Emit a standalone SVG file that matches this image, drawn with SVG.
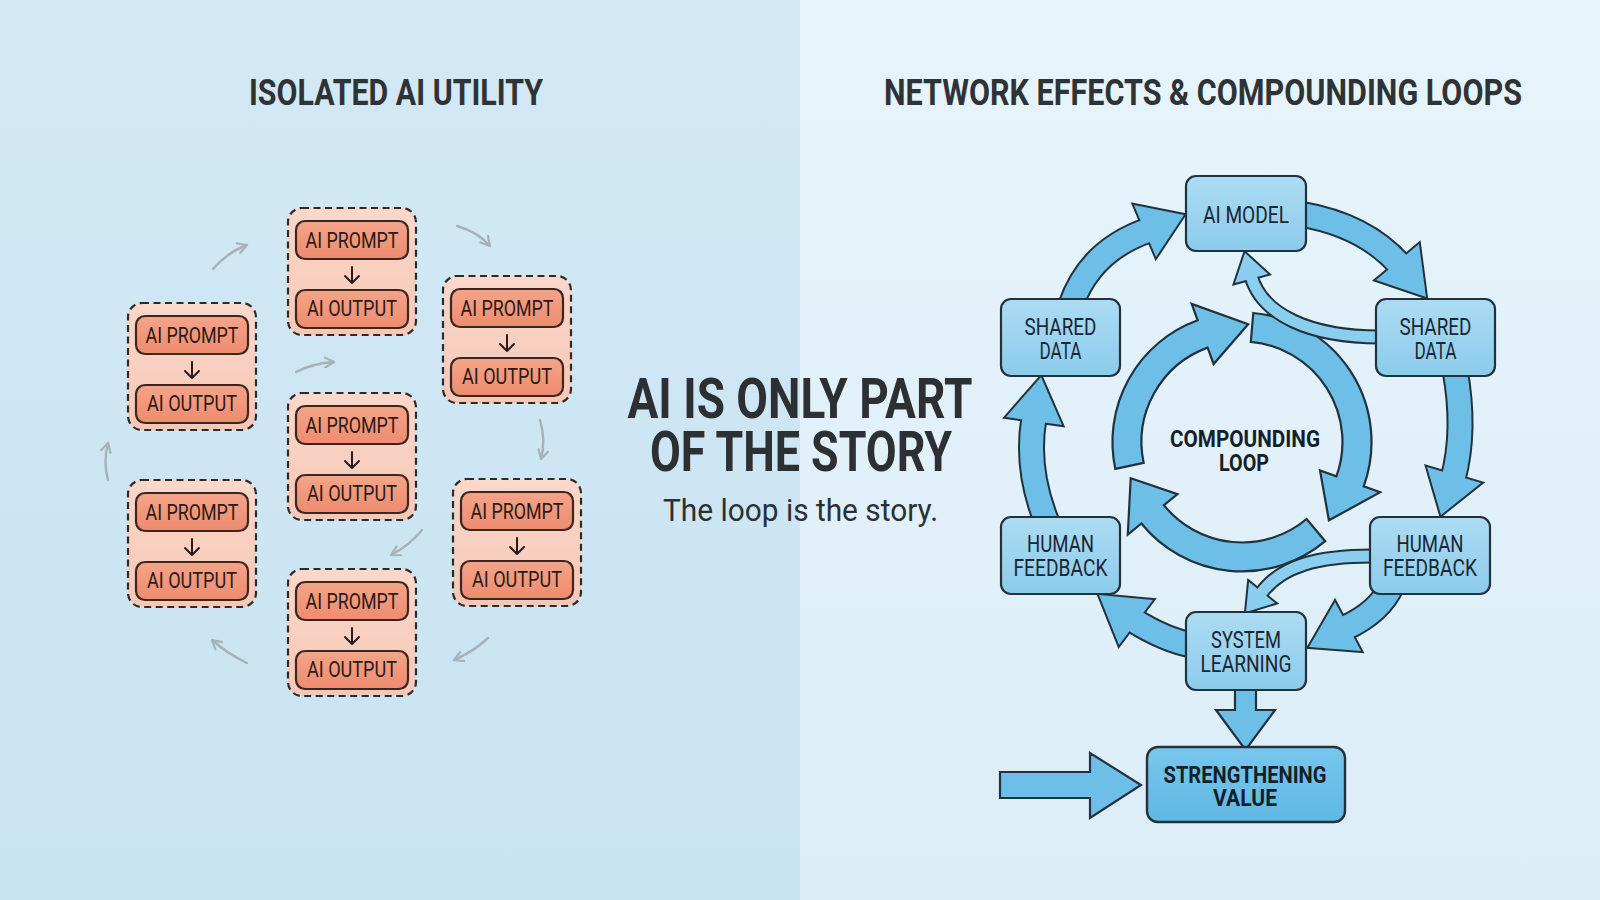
<svg xmlns="http://www.w3.org/2000/svg" width="1600" height="900" viewBox="0 0 1600 900">
<defs>
<linearGradient id="bgL" x1="0" y1="0" x2="0" y2="1"><stop offset="0" stop-color="#d3e9f5"/><stop offset="1" stop-color="#c8e3f2"/></linearGradient>
<linearGradient id="bgR" x1="0" y1="0" x2="0" y2="1"><stop offset="0" stop-color="#e7f4fb"/><stop offset="1" stop-color="#dcedf7"/></linearGradient>
<linearGradient id="gOb" x1="0" y1="0" x2="0" y2="1"><stop offset="0" stop-color="#fad8cb"/><stop offset="1" stop-color="#f6c7b6"/></linearGradient>
<linearGradient id="gIb" x1="0" y1="0" x2="0" y2="1"><stop offset="0" stop-color="#f5a489"/><stop offset="1" stop-color="#ee8b6f"/></linearGradient>
<linearGradient id="gNode" x1="0" y1="0" x2="0" y2="1"><stop offset="0" stop-color="#acdcf3"/><stop offset="1" stop-color="#8ccbec"/></linearGradient>
<linearGradient id="gSV" x1="0" y1="0" x2="0" y2="1"><stop offset="0" stop-color="#78c6ec"/><stop offset="1" stop-color="#5fb8e4"/></linearGradient>
<marker id="gh" viewBox="0 0 12 12" refX="10" refY="6" markerWidth="12" markerHeight="12" markerUnits="userSpaceOnUse" orient="auto">
<path d="M1,1 L10,6 L1,11" fill="none" stroke="#a6b2b9" stroke-width="2.2" stroke-linecap="round" stroke-linejoin="round"/>
</marker>
<style>
.ob{fill:url(#gOb);stroke:#2e2a28;stroke-width:2.2;stroke-dasharray:7 4.5}
.ib{fill:url(#gIb);stroke:#3b2620;stroke-width:2.2}
.bt{font-family:Roboto,"Liberation Sans",sans-serif;font-size:22px;fill:#2a1b17;text-anchor:middle}
.da{fill:none;stroke:#2a1b17;stroke-width:2;stroke-linecap:round;stroke-linejoin:round}
.gl{fill:none;stroke:#a6b2b9;stroke-width:2.4;stroke-linecap:round;marker-end:url(#gh)}
.ttl{font-family:Roboto,"Liberation Sans",sans-serif;font-weight:700;font-size:37px;fill:#2f3336;text-anchor:middle}
.hl1{font-family:Roboto,"Liberation Sans",sans-serif;font-weight:700;font-size:56px;fill:#2c3033;text-anchor:middle}
.sub{font-family:Roboto,"Liberation Sans",sans-serif;font-size:32px;fill:#2c3033;text-anchor:middle}
.node{fill:url(#gNode);stroke:#22323d;stroke-width:2.2}
.sv{fill:url(#gSV);stroke:#22323d;stroke-width:2.4}
.nt{font-family:Roboto,"Liberation Sans",sans-serif;font-size:24px;fill:#1b2630;text-anchor:middle}
.nb{font-family:Roboto,"Liberation Sans",sans-serif;font-weight:700;font-size:24px;fill:#151f27;text-anchor:middle}
.sd{fill:none;stroke:#22323d;stroke-width:27}
.sl{fill:none;stroke:#6dbfe7;stroke-width:23}
.td{fill:none;stroke:#22323d;stroke-width:15}
.tl{fill:none;stroke:#8acfef;stroke-width:11}
.hd{fill:#22323d;stroke:#22323d;stroke-width:4;stroke-linejoin:miter}
.hf{fill:#6dbfe7}
.hft{fill:#8acfef}
.blk{fill:#6dbfe7;stroke:#22323d;stroke-width:2.2;stroke-linejoin:miter}
</style>
</defs>

<rect x="0" y="0" width="800" height="900" fill="url(#bgL)"/>
<rect x="800" y="0" width="800" height="900" fill="url(#bgR)"/>

<text class="ttl" x="396" y="105" textLength="294" lengthAdjust="spacingAndGlyphs">ISOLATED AI UTILITY</text>
<text class="ttl" x="1203" y="105" textLength="638" lengthAdjust="spacingAndGlyphs">NETWORK EFFECTS &amp; COMPOUNDING LOOPS</text>

<g id="left-connectors">
<path class="gl" d="M213,269 Q228,252 247,245"/>
<path class="gl" d="M457,226 Q478,232 490,246"/>
<path class="gl" d="M296,372 Q314,363 334,362"/>
<path class="gl" d="M540,420 Q546,440 541,459"/>
<path class="gl" d="M108,480 Q103,462 108,443"/>
<path class="gl" d="M422,530 Q410,545 391,555"/>
<path class="gl" d="M488,638 Q473,652 454,660"/>
<path class="gl" d="M247,663 Q228,654 212,640"/>
</g>

<g id="boxA" transform="translate(288,208)">
<rect class="ob" width="128" height="127" rx="14"/>
<rect class="ib" x="8" y="13" width="112" height="38" rx="9"/>
<text class="bt" x="64" y="40" textLength="93" lengthAdjust="spacingAndGlyphs">AI PROMPT</text>
<path class="da" d="M64,59 V75 M57,68 L64,75 L71,68"/>
<rect class="ib" x="8" y="82" width="112" height="38" rx="9"/>
<text class="bt" x="64" y="108" textLength="90" lengthAdjust="spacingAndGlyphs">AI OUTPUT</text>
</g>
<g id="boxB" transform="translate(128,303)">
<rect class="ob" width="128" height="127" rx="14"/>
<rect class="ib" x="8" y="13" width="112" height="38" rx="9"/>
<text class="bt" x="64" y="40" textLength="93" lengthAdjust="spacingAndGlyphs">AI PROMPT</text>
<path class="da" d="M64,59 V75 M57,68 L64,75 L71,68"/>
<rect class="ib" x="8" y="82" width="112" height="38" rx="9"/>
<text class="bt" x="64" y="108" textLength="90" lengthAdjust="spacingAndGlyphs">AI OUTPUT</text>
</g>
<g id="boxC" transform="translate(443,276)">
<rect class="ob" width="128" height="127" rx="14"/>
<rect class="ib" x="8" y="13" width="112" height="38" rx="9"/>
<text class="bt" x="64" y="40" textLength="93" lengthAdjust="spacingAndGlyphs">AI PROMPT</text>
<path class="da" d="M64,59 V75 M57,68 L64,75 L71,68"/>
<rect class="ib" x="8" y="82" width="112" height="38" rx="9"/>
<text class="bt" x="64" y="108" textLength="90" lengthAdjust="spacingAndGlyphs">AI OUTPUT</text>
</g>
<g id="boxD" transform="translate(288,393)">
<rect class="ob" width="128" height="127" rx="14"/>
<rect class="ib" x="8" y="13" width="112" height="38" rx="9"/>
<text class="bt" x="64" y="40" textLength="93" lengthAdjust="spacingAndGlyphs">AI PROMPT</text>
<path class="da" d="M64,59 V75 M57,68 L64,75 L71,68"/>
<rect class="ib" x="8" y="82" width="112" height="38" rx="9"/>
<text class="bt" x="64" y="108" textLength="90" lengthAdjust="spacingAndGlyphs">AI OUTPUT</text>
</g>
<g id="boxE" transform="translate(128,480)">
<rect class="ob" width="128" height="127" rx="14"/>
<rect class="ib" x="8" y="13" width="112" height="38" rx="9"/>
<text class="bt" x="64" y="40" textLength="93" lengthAdjust="spacingAndGlyphs">AI PROMPT</text>
<path class="da" d="M64,59 V75 M57,68 L64,75 L71,68"/>
<rect class="ib" x="8" y="82" width="112" height="38" rx="9"/>
<text class="bt" x="64" y="108" textLength="90" lengthAdjust="spacingAndGlyphs">AI OUTPUT</text>
</g>
<g id="boxF" transform="translate(453,479)">
<rect class="ob" width="128" height="127" rx="14"/>
<rect class="ib" x="8" y="13" width="112" height="38" rx="9"/>
<text class="bt" x="64" y="40" textLength="93" lengthAdjust="spacingAndGlyphs">AI PROMPT</text>
<path class="da" d="M64,59 V75 M57,68 L64,75 L71,68"/>
<rect class="ib" x="8" y="82" width="112" height="38" rx="9"/>
<text class="bt" x="64" y="108" textLength="90" lengthAdjust="spacingAndGlyphs">AI OUTPUT</text>
</g>
<g id="boxG" transform="translate(288,569)">
<rect class="ob" width="128" height="127" rx="14"/>
<rect class="ib" x="8" y="13" width="112" height="38" rx="9"/>
<text class="bt" x="64" y="40" textLength="93" lengthAdjust="spacingAndGlyphs">AI PROMPT</text>
<path class="da" d="M64,59 V75 M57,68 L64,75 L71,68"/>
<rect class="ib" x="8" y="82" width="112" height="38" rx="9"/>
<text class="bt" x="64" y="108" textLength="90" lengthAdjust="spacingAndGlyphs">AI OUTPUT</text>
</g>

<g id="headline">
<text class="hl1" x="800" y="418" textLength="345" lengthAdjust="spacingAndGlyphs">AI IS ONLY PART</text>
<text class="hl1" x="801" y="471" textLength="302" lengthAdjust="spacingAndGlyphs">OF THE STORY</text>
<text class="sub" x="800.5" y="521" textLength="275" lengthAdjust="spacingAndGlyphs">The loop is the story.</text>
</g>

<g id="connectors">
<g id="a-sdl-aim"><path class="sd" d="M1071,305 Q1090,250 1149,230"/><polygon class="hd" points="1134,205 1184,215 1156,257"/><path class="sl" d="M1071,305 Q1090,250 1149,230"/><polygon class="hf" points="1134,205 1184,215 1156,257"/></g>
<g id="a-aim-sdr"><path class="sd" d="M1300,214 Q1365,225 1400,265"/><polygon class="hd" points="1376,280 1426,297 1419,244"/><path class="sl" d="M1300,214 Q1365,225 1400,265"/><polygon class="hf" points="1376,280 1426,297 1419,244"/></g>
<g id="a-sdr-hfr"><path class="sd" d="M1455,370 Q1466,430 1453,479"/><polygon class="hd" points="1427,467 1441,515 1481,483"/><path class="sl" d="M1455,370 Q1466,430 1453,479"/><polygon class="hf" points="1427,467 1441,515 1481,483"/></g>
<g id="a-hfr-sl"><path class="sd" d="M1392,585 Q1380,612 1345,628"/><polygon class="hd" points="1335,602 1309,647 1361,651"/><path class="sl" d="M1392,585 Q1380,612 1345,628"/><polygon class="hf" points="1335,602 1309,647 1361,651"/></g>
<g id="a-sl-hfl"><path class="sd" d="M1192,645 Q1165,640 1133,620"/><polygon class="hd" points="1153,600 1099,595 1119,645"/><path class="sl" d="M1192,645 Q1165,640 1133,620"/><polygon class="hf" points="1153,600 1099,595 1119,645"/></g>
<g id="a-hfl-sdl"><path class="sd" d="M1048,525 Q1025,470 1034,418"/><polygon class="hd" points="1006,417 1041,377 1062,425"/><path class="sl" d="M1048,525 Q1025,470 1034,418"/><polygon class="hf" points="1006,417 1041,377 1062,425"/></g>

<g id="inner-loop">
<path class="blk" d="M1115.3,468.9 A129.5,129.5 0 0 1 1197.7,320.3 L1191.7,303.9 L1248.2,324.2 L1213.6,364.0 L1207.6,347.6 A100.5,100.5 0 0 0 1143.7,462.9 Z"/>
<path class="blk" d="M1253.3,313.0 A129.5,129.5 0 0 1 1363.7,486.3 L1380.1,492.3 L1328.9,520.3 L1320.0,470.4 L1336.4,476.4 A100.5,100.5 0 0 0 1250.8,341.9 Z"/>
<path class="blk" d="M1325.2,541.2 A129.5,129.5 0 0 1 1141.4,523.5 L1127.8,534.5 L1130.7,478.2 L1177.5,494.2 L1163.9,505.2 A100.5,100.5 0 0 0 1306.6,519.0 Z"/>
</g>

<g id="t-sdr-aim"><path class="td" d="M1380,337 C1310,337 1262,315 1251,276"/><polygon class="hd" points="1268,274 1245,253 1235,283"/><path class="tl" d="M1380,337 C1310,337 1262,315 1251,276"/><polygon class="hft" points="1268,274 1245,253 1235,283"/></g>
<g id="t-hfr-sl"><path class="td" d="M1372,556 C1320,556 1280,565 1260,595"/><polygon class="hd" points="1275,603 1246,612 1249,582"/><path class="tl" d="M1372,556 C1320,556 1280,565 1260,595"/><polygon class="hft" points="1275,603 1246,612 1249,582"/></g>

<polygon id="a-sl-sv" class="blk" points="1235,689 1256,689 1256,710 1275,710 1245.5,750 1216,710 1235,710"/>
<polygon id="a-in-sv" class="blk" points="1000,772 1090,772 1090,753 1141,785 1090,818 1090,798 1000,798"/>
</g>

<text class="nb" x="1245" y="447" textLength="150" lengthAdjust="spacingAndGlyphs">COMPOUNDING</text>
<text class="nb" x="1244" y="471" textLength="50" lengthAdjust="spacingAndGlyphs">LOOP</text>

<g id="n-aim"><rect class="node" x="1186" y="176" width="120" height="75" rx="10"/><text class="nt" x="1246" y="222.5" textLength="86" lengthAdjust="spacingAndGlyphs">AI MODEL</text></g>
<g id="n-sdl"><rect class="node" x="1001" y="299" width="119" height="77" rx="10"/><text class="nt" x="1060.5" y="335" textLength="72" lengthAdjust="spacingAndGlyphs">SHARED</text><text class="nt" x="1060.5" y="359" textLength="42" lengthAdjust="spacingAndGlyphs">DATA</text></g>
<g id="n-sdr"><rect class="node" x="1376" y="299" width="119" height="77" rx="10"/><text class="nt" x="1435.5" y="335" textLength="72" lengthAdjust="spacingAndGlyphs">SHARED</text><text class="nt" x="1435.5" y="359" textLength="42" lengthAdjust="spacingAndGlyphs">DATA</text></g>
<g id="n-hfl"><rect class="node" x="1001" y="517" width="119" height="77" rx="10"/><text class="nt" x="1060.5" y="552" textLength="67" lengthAdjust="spacingAndGlyphs">HUMAN</text><text class="nt" x="1060.5" y="576" textLength="94" lengthAdjust="spacingAndGlyphs">FEEDBACK</text></g>
<g id="n-hfr"><rect class="node" x="1370" y="517" width="120" height="77" rx="10"/><text class="nt" x="1430" y="552" textLength="67" lengthAdjust="spacingAndGlyphs">HUMAN</text><text class="nt" x="1430" y="576" textLength="94" lengthAdjust="spacingAndGlyphs">FEEDBACK</text></g>
<g id="n-sl"><rect class="node" x="1186" y="612" width="120" height="78" rx="10"/><text class="nt" x="1246" y="648" textLength="70" lengthAdjust="spacingAndGlyphs">SYSTEM</text><text class="nt" x="1246" y="672" textLength="91" lengthAdjust="spacingAndGlyphs">LEARNING</text></g>
<g id="n-sv"><rect class="sv" x="1147" y="747" width="198" height="75" rx="11"/><text class="nb" x="1245" y="783" textLength="163" lengthAdjust="spacingAndGlyphs">STRENGTHENING</text><text class="nb" x="1245" y="806" textLength="64" lengthAdjust="spacingAndGlyphs">VALUE</text></g>
</svg>
